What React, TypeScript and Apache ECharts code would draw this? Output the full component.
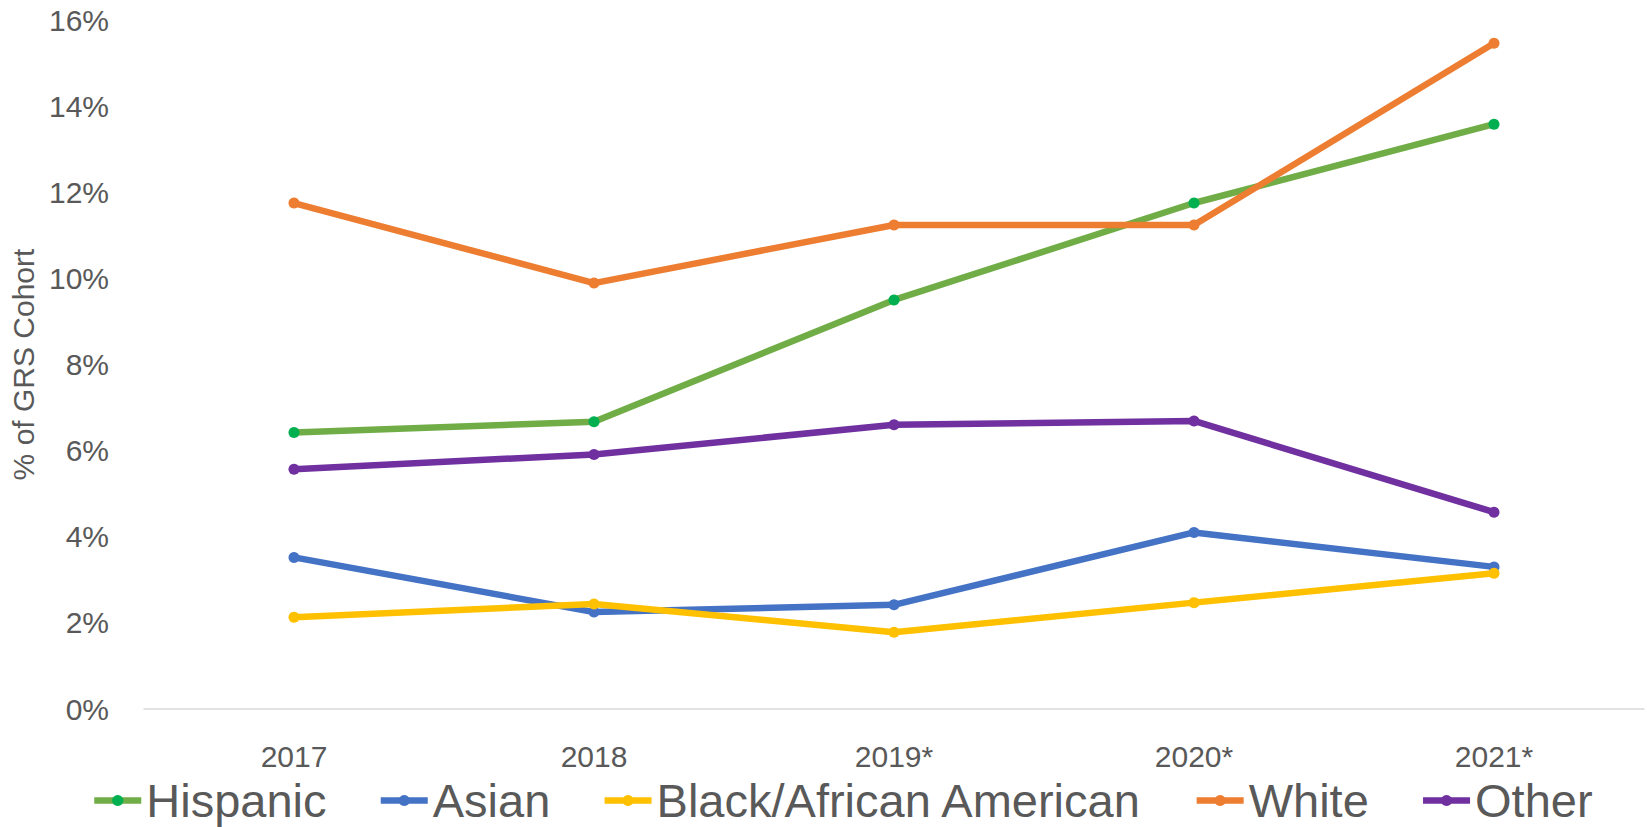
import React, { useEffect, useRef } from "react";
import * as echarts from "echarts";

const categories = ["2017", "2018", "2019*", "2020*", "2021*"];
const hispanic = [6.42, 6.67, 9.5, 11.75, 13.58];
const asian = [3.52, 2.25, 2.42, 4.1, 3.3];
const black = [2.13, 2.44, 1.78, 2.47, 3.15];
const white = [11.75, 9.89, 11.24, 11.24, 15.46];
const other = [5.57, 5.91, 6.6, 6.69, 4.57];

const yTicks = { min: 0, max: 16, interval: 2 };

const FONT = "Liberation Sans";

export default function App() {
  const ref = useRef<HTMLDivElement>(null);
  useEffect(() => {
    if (!ref.current) return;
    const chart = echarts.init(ref.current, null, { renderer: "svg" });
    const mk = (name: string, data: number[], line: string, dot: string) => ({
      name,
      type: "line",
      data,
      symbol: "circle",
      symbolSize: 11,
      showSymbol: true,
      lineStyle: { color: line, width: 6.5 },
      itemStyle: { color: dot, borderColor: dot, borderWidth: 0 },
      z: 2,
    });
    chart.setOption({
      animation: false,
      backgroundColor: "#ffffff",
      textStyle: { fontFamily: FONT },
      grid: { left: 144, right: 3, top: 20, bottom: 118, containLabel: false },
      legend: {
        left: 91,
        top: 777,
        padding: 0,
        itemGap: 51,
        itemWidth: 47,
        itemHeight: 14,
        lineStyle: { width: 6.5 },
        textStyle: { fontFamily: FONT, fontSize: 47, color: "#595959" },
        data: ["Hispanic", "Asian", "Black/African American", "White", "Other"],
      },
      xAxis: {
        type: "category",
        data: categories,
        boundaryGap: true,
        axisLine: { show: true, lineStyle: { color: "#D9D9D9", width: 1.5 } },
        axisTick: { show: false },
        axisLabel: { color: "#595959", fontSize: 30, fontFamily: FONT, margin: 32 },
        splitLine: { show: false },
      },
      yAxis: {
        type: "value",
        min: yTicks.min,
        max: yTicks.max,
        interval: yTicks.interval,
        name: "% of GRS Cohort",
        nameLocation: "middle",
        nameGap: 106,
        nameTextStyle: { color: "#595959", fontSize: 30, fontFamily: FONT },
        axisLine: { show: false },
        axisTick: { show: false },
        splitLine: { show: false },
        axisLabel: {
          color: "#595959",
          fontSize: 30,
          fontFamily: FONT,
          margin: 35,
          formatter: "{value}%",
        },
      },
      series: [
        mk("Hispanic", hispanic, "#70AD47", "#00B050"),
        mk("Asian", asian, "#4472C4", "#4472C4"),
        mk("Black/African American", black, "#FFC000", "#FFC000"),
        mk("White", white, "#ED7D31", "#ED7D31"),
        mk("Other", other, "#7030A0", "#7030A0"),
      ],
    });
    return () => chart.dispose();
  }, []);
  return (
    <div
      ref={ref}
      style={{ position: "fixed", left: 0, top: 0, width: 1647, height: 827 }}
    />
  );
}
